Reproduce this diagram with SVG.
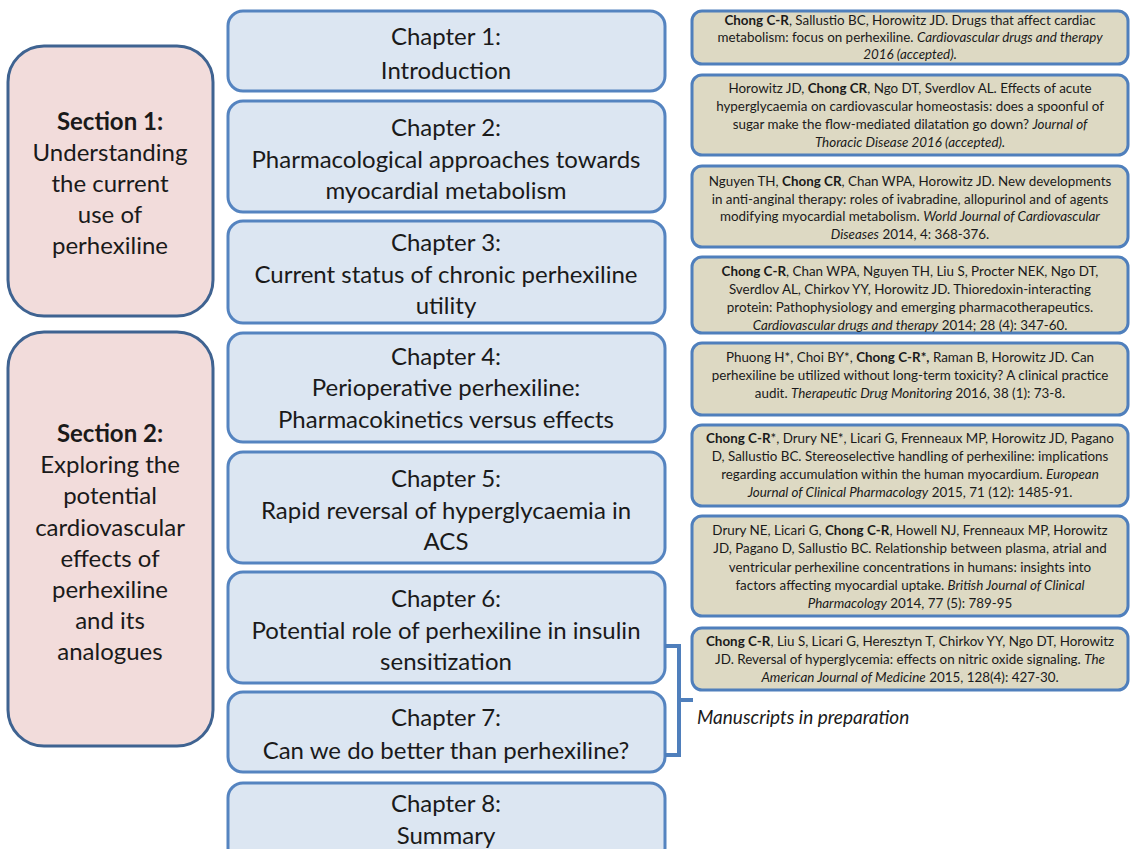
<svg xmlns="http://www.w3.org/2000/svg" width="1130" height="849" viewBox="0 0 1130 849">
<style>
.sec{fill:#f2dcdb;stroke:#3f6391;stroke-width:3}
.ch{fill:#dce6f2;stroke:#5584c0;stroke-width:3}
.ref{fill:#ddd9c3;stroke:#4f7fbc;stroke-width:3}
.t{font-family:Lato,"Liberation Sans",sans-serif;fill:#1a1a1a;text-anchor:middle}
.big{font-size:24px}
.sm{font-size:13.4px}
.b{font-weight:bold}
.i{font-style:italic}
.con{fill:none;stroke:#4f7fbc;stroke-width:4}
</style>
<rect width="1130" height="849" fill="#ffffff"/>
<g id="section1">
<rect class="sec" x="8" y="46" width="205" height="270" rx="36"/>
<text class="t big"><tspan class="b" x="110" y="130">Section 1:</tspan><tspan x="110" y="161">Understanding</tspan><tspan x="110" y="192">the current</tspan><tspan x="110" y="223">use of</tspan><tspan x="110" y="254">perhexiline</tspan></text>
</g>
<g id="section2">
<rect class="sec" x="8" y="332" width="205" height="414" rx="36"/>
<text class="t big"><tspan class="b" x="110" y="442">Section 2:</tspan><tspan x="110" y="473">Exploring the</tspan><tspan x="110" y="504">potential</tspan><tspan x="110" y="536">cardiovascular</tspan><tspan x="110" y="567">effects of</tspan><tspan x="110" y="598">perhexiline</tspan><tspan x="110" y="629">and its</tspan><tspan x="110" y="660">analogues</tspan></text>
</g>
<g id="ch1">
<rect class="ch" x="228" y="11" width="437" height="80" rx="15"/>
<text class="t big"><tspan x="446" y="45">Chapter 1:</tspan><tspan x="446" y="79">Introduction</tspan></text>
</g>
<g id="ch2">
<rect class="ch" x="228" y="101" width="437" height="111" rx="15"/>
<text class="t big"><tspan x="446" y="136">Chapter 2:</tspan><tspan x="446" y="168">Pharmacological approaches towards</tspan><tspan x="446" y="199">myocardial metabolism</tspan></text>
</g>
<g id="ch3">
<rect class="ch" x="228" y="221" width="437" height="102" rx="15"/>
<text class="t big"><tspan x="446" y="251">Chapter 3:</tspan><tspan x="446" y="283">Current status of chronic perhexiline</tspan><tspan x="446" y="314">utility</tspan></text>
</g>
<g id="ch4">
<rect class="ch" x="228" y="333" width="437" height="109" rx="15"/>
<text class="t big"><tspan x="446" y="365">Chapter 4:</tspan><tspan x="446" y="396">Perioperative perhexiline:</tspan><tspan x="446" y="428">Pharmacokinetics versus effects</tspan></text>
</g>
<g id="ch5">
<rect class="ch" x="228" y="452" width="437" height="111" rx="15"/>
<text class="t big"><tspan x="446" y="487">Chapter 5:</tspan><tspan x="446" y="519">Rapid reversal of hyperglycaemia in</tspan><tspan x="446" y="550">ACS</tspan></text>
</g>
<g id="ch6">
<rect class="ch" x="228" y="572" width="437" height="111" rx="15"/>
<text class="t big"><tspan x="446" y="607">Chapter 6:</tspan><tspan x="446" y="639">Potential role of perhexiline in insulin</tspan><tspan x="446" y="670">sensitization</tspan></text>
</g>
<g id="ch7">
<rect class="ch" x="228" y="692" width="437" height="80" rx="15"/>
<text class="t big"><tspan x="446" y="726">Chapter 7:</tspan><tspan x="446" y="759">Can we do better than perhexiline?</tspan></text>
</g>
<g id="ch8">
<rect class="ch" x="228" y="783" width="437" height="80" rx="15"/>
<text class="t big"><tspan x="446" y="812">Chapter 8:</tspan><tspan x="446" y="844">Summary</tspan></text>
</g>
<g id="ref1">
<rect class="ref" x="692" y="11" width="436" height="53" rx="10"/>
<text class="t sm"><tspan x="910" y="25"><tspan class="b">Chong C-R</tspan>, Sallustio BC, Horowitz JD. Drugs that affect cardiac</tspan><tspan x="910" y="42">metabolism: focus on perhexiline. <tspan class="i">Cardiovascular drugs and therapy</tspan></tspan><tspan x="910" y="59" class="i">2016 (accepted).</tspan></text>
</g>
<g id="ref2">
<rect class="ref" x="692" y="75" width="436" height="80" rx="10"/>
<text class="t sm"><tspan x="910" y="93">Horowitz JD, <tspan class="b">Chong CR</tspan>, Ngo DT, Sverdlov AL. Effects of acute</tspan><tspan x="910" y="111">hyperglycaemia on cardiovascular homeostasis: does a spoonful of</tspan><tspan x="910" y="129">sugar make the flow-mediated dilatation go down? <tspan class="i">Journal of</tspan></tspan><tspan x="910" y="147" class="i">Thoracic Disease 2016 (accepted).</tspan></text>
</g>
<g id="ref3">
<rect class="ref" x="692" y="166" width="436" height="81" rx="10"/>
<text class="t sm"><tspan x="910" y="186">Nguyen TH, <tspan class="b">Chong CR</tspan>, Chan WPA, Horowitz JD. New developments</tspan><tspan x="910" y="204">in anti-anginal therapy: roles of ivabradine, allopurinol and of agents</tspan><tspan x="910" y="221">modifying myocardial metabolism. <tspan class="i">World Journal of Cardiovascular</tspan></tspan><tspan x="910" y="239"><tspan class="i">Diseases</tspan> 2014, 4: 368-376.</tspan></text>
</g>
<g id="ref4">
<rect class="ref" x="692" y="257" width="436" height="76" rx="10"/>
<text class="t sm"><tspan x="910" y="276"><tspan class="b">Chong C-R</tspan>, Chan WPA, Nguyen TH, Liu S, Procter NEK, Ngo DT,</tspan><tspan x="910" y="294">Sverdlov AL, Chirkov YY, Horowitz JD. Thioredoxin-interacting</tspan><tspan x="910" y="312">protein: Pathophysiology and emerging pharmacotherapeutics.</tspan><tspan x="910" y="330"><tspan class="i">Cardiovascular drugs and therapy</tspan> 2014; 28 (4): 347-60.</tspan></text>
</g>
<g id="ref5">
<rect class="ref" x="692" y="343" width="436" height="72" rx="10"/>
<text class="t sm"><tspan x="910" y="362">Phuong H*, Choi BY*, <tspan class="b">Chong C-R*,</tspan> Raman B, Horowitz JD. Can</tspan><tspan x="910" y="380">perhexiline be utilized without long-term toxicity? A clinical practice</tspan><tspan x="910" y="398">audit. <tspan class="i">Therapeutic Drug Monitoring</tspan> 2016, 38 (1): 73-8.</tspan></text>
</g>
<g id="ref6">
<rect class="ref" x="692" y="425" width="436" height="81" rx="10"/>
<text class="t sm"><tspan x="910" y="443"><tspan class="b">Chong C-R</tspan>*, Drury NE*, Licari G, Frenneaux MP, Horowitz JD, Pagano</tspan><tspan x="910" y="461">D, Sallustio BC. Stereoselective handling of perhexiline: implications</tspan><tspan x="910" y="479">regarding accumulation within the human myocardium. <tspan class="i">European</tspan></tspan><tspan x="910" y="497"><tspan class="i">Journal of Clinical Pharmacology</tspan> 2015, 71 (12): 1485-91.</tspan></text>
</g>
<g id="ref7">
<rect class="ref" x="692" y="516" width="436" height="100" rx="10"/>
<text class="t sm"><tspan x="910" y="535">Drury NE, Licari G, <tspan class="b">Chong C-R</tspan>, Howell NJ, Frenneaux MP, Horowitz</tspan><tspan x="910" y="553">JD, Pagano D, Sallustio BC. Relationship between plasma, atrial and</tspan><tspan x="910" y="572">ventricular perhexiline concentrations in humans: insights into</tspan><tspan x="910" y="590">factors affecting myocardial uptake. <tspan class="i">British Journal of Clinical</tspan></tspan><tspan x="910" y="608"><tspan class="i">Pharmacology</tspan> 2014, 77 (5): 789-95</tspan></text>
</g>
<g id="ref8">
<rect class="ref" x="692" y="628" width="436" height="62" rx="10"/>
<text class="t sm"><tspan x="910" y="646"><tspan class="b">Chong C-R</tspan>, Liu S, Licari G, Heresztyn T, Chirkov YY, Ngo DT, Horowitz</tspan><tspan x="910" y="664">JD. Reversal of hyperglycemia: effects on nitric oxide signaling. <tspan class="i">The</tspan></tspan><tspan x="910" y="682"><tspan class="i">American Journal of Medicine</tspan> 2015, 128(4): 427-30.</tspan></text>
</g>
<g id="connectors">
<path class="con" d="M665,646 H679 V755 H665 M679,700 H693"/>
</g>
<g id="label-manuscripts">
<text x="697" y="724" font-family="Lato,'Liberation Sans',sans-serif" font-size="19" font-style="italic" fill="#1a1a1a">Manuscripts in preparation</text>
</g>
</svg>
